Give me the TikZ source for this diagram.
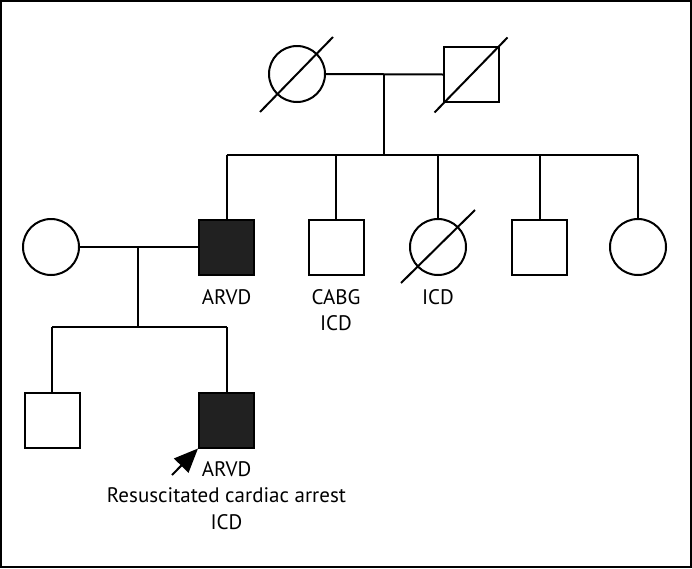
\documentclass[tikz,border=0pt]{standalone}
\usepackage{fontspec}
\setmainfont{PT Sans}
\usetikzlibrary{calc,arrows.meta}
\begin{document}
\begin{tikzpicture}[x=1pt,y=-1pt,
  line width=2pt,
  male/.style={draw, rectangle, minimum size=55pt, inner sep=0pt},
  female/.style={draw, circle, minimum size=56pt, inner sep=0pt},
  affected/.style={fill=black!87},
  lbl/.style={font=\fontsize{21}{24}\selectfont, inner sep=0pt},
  ln/.style={line width=2pt}]
\useasboundingbox (0,0) rectangle (692,568);
\draw[line width=2pt] (1,1) rectangle (691,567);
% generation I
\node[female] (gm) at (297,74) {};
\node[male] (gf) at (471.5,74.5) {};
\draw[ln] ($(gm)+(-37,38)$) -- ($(gm)+(36,-37)$);
\draw[ln] ($(gf)+(-37,38)$) -- ($(gf)+(36,-37)$);
\draw[ln] (gm.east) -- (gf.west);
\coordinate (m1) at (384,74);
\coordinate (s1) at (384,155);
\draw[ln] (m1) -- (s1);
% generation II
\node[female] (w) at (51,247) {};
\node[male,affected] (a) at (226.5,247) {};
\node[male] (c) at (336,247.5) {};
\node[female] (d) at (438,247) {};
\node[male] (e) at (539.5,247) {};
\node[female] (f) at (638,247) {};
\draw[ln] ($(d)+(-37,36)$) -- ($(d)+(37,-37)$);
\coordinate (sl) at (226.5,155);
\coordinate (sr) at (638,155);
\draw[ln] (sl) -- (sr);
\foreach \n in {a,c,d,e,f} \draw[ln] (\n.north |- sl) -- (\n.north);
\draw[ln] (w.east) -- (a.west);
\coordinate (m2) at (138,247);
\coordinate (s2) at (138,327);
\draw[ln] (m2) -- (s2);
\node[lbl] (la) at (226.5,297) {ARVD};
\node[lbl] (lc1) at (336,297) {CABG};
\node[lbl] (lc2) at (336,323) {ICD};
\node[lbl] (ld) at (438,297) {ICD};
% generation III
\node[male] (g) at (52,420) {};
\node[male,affected] (p) at (226.5,420) {};
\coordinate (tl) at (52,327);
\coordinate (tr) at (226.5,327);
\draw[ln] (tl) -- (tr);
\draw[ln] (tl) -- (g.north);
\draw[ln] (tr) -- (p.north);
\coordinate (arr) at (172,475);
\draw[ln,-{Triangle[length=24pt,width=20pt]}] (arr) -- (p.south west);
\node[lbl] (lp1) at (226.5,469) {ARVD};
\node[lbl] (lp2) at (226.5,495) {Resuscitated cardiac arrest};
\node[lbl] (lp3) at (226.5,522) {ICD};
\end{tikzpicture}
\end{document}
